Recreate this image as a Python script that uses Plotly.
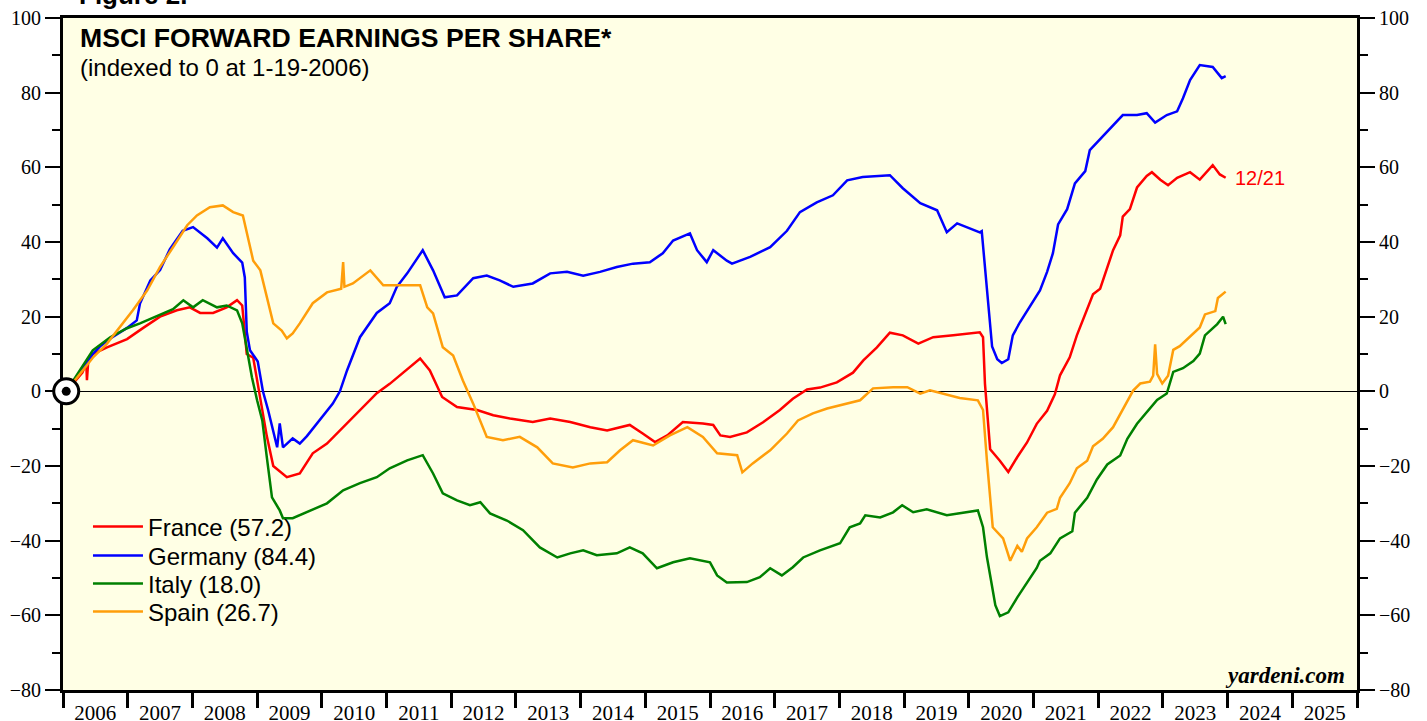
import plotly.graph_objects as go

# ---------------- data (decimal years, index values) ----------------
france_x = [2006.05, 2006.30, 2006.36, 2006.37, 2006.39, 2006.46, 2006.68, 2006.99, 2007.24, 2007.50, 2007.76, 2007.96,
            2008.12, 2008.32, 2008.53, 2008.69, 2008.77, 2008.84, 2008.94, 2009.05, 2009.15, 2009.25, 2009.46, 2009.66,
            2009.86, 2010.08, 2010.39, 2010.59, 2010.85, 2011.05, 2011.26, 2011.52, 2011.67, 2011.86, 2012.09, 2012.40,
            2012.65, 2012.91, 2013.26, 2013.53, 2013.84, 2014.15, 2014.41, 2014.76, 2014.96, 2015.15, 2015.34, 2015.58,
            2015.89, 2016.05, 2016.16, 2016.31, 2016.57, 2016.82, 2017.08, 2017.28, 2017.50, 2017.70, 2017.96, 2018.21,
            2018.37, 2018.58, 2018.78, 2018.98, 2019.22, 2019.45, 2019.76, 2020.17, 2020.22, 2020.25, 2020.33, 2020.48,
            2020.61, 2020.75, 2020.90, 2021.05, 2021.21, 2021.33, 2021.41, 2021.56, 2021.67, 2021.83, 2021.92, 2022.03,
            2022.14, 2022.23, 2022.34, 2022.38, 2022.49, 2022.60, 2022.75, 2022.83, 2022.96, 2023.08, 2023.22, 2023.42,
            2023.57, 2023.68, 2023.77, 2023.88, 2023.97]
france_y = [0, 5, 7.5, 3, 8, 10, 11.8, 14, 17, 20, 21.7, 22.5,
            21, 21, 22.5, 24.4, 23, 10, 9, -1.6, -12, -20, -23, -22,
            -16.6, -14, -8.6, -5, -0.5, 2, 5, 8.8, 5.6, -1.5, -4.2, -5,
            -6.4, -7.3, -8.2, -7.3, -8.2, -9.6, -10.5, -9, -11.3, -13.6, -11.8, -8.2,
            -8.6, -9, -11.8, -12.2, -11, -8.3, -5, -2, 0.5, 1, 2.4, 5,
            8.3, 11.8, 15.7, 15, 12.8, 14.5, 15, 15.8, 14.5, 2, -15.5, -18.6,
            -21.6, -17.6, -13.7, -8.7, -5.2, -0.8, 4.3, 9.1, 15, 22, 26, 27.5,
            33, 37.8, 41.8, 46.8, 48.8, 54.6, 57.7, 58.7, 56.7, 55.2, 57.2, 58.7,
            56.7, 58.7, 60.6, 58.1, 57.2]

germany_x = [2006.05, 2006.46, 2006.57, 2006.72, 2006.99, 2007.14, 2007.19, 2007.35, 2007.50, 2007.65, 2007.85, 2008.01,
             2008.23, 2008.38, 2008.47, 2008.63, 2008.77, 2008.81, 2008.84, 2008.89, 2009.01, 2009.09, 2009.17, 2009.31,
             2009.35, 2009.40, 2009.55, 2009.66, 2009.77, 2009.97, 2010.17, 2010.28, 2010.39, 2010.59, 2010.85, 2011.05,
             2011.16, 2011.32, 2011.56, 2011.72, 2011.90, 2012.09, 2012.34, 2012.55, 2012.75, 2012.96, 2013.26, 2013.53,
             2013.79, 2014.04, 2014.30, 2014.56, 2014.81, 2015.07, 2015.27, 2015.43, 2015.69, 2015.80, 2015.95, 2016.05,
             2016.26, 2016.34, 2016.62, 2016.93, 2017.19, 2017.39, 2017.65, 2017.90, 2018.12, 2018.36, 2018.78, 2018.98,
             2019.25, 2019.51, 2019.66, 2019.82, 2020.17, 2020.20, 2020.28, 2020.36, 2020.44, 2020.51, 2020.61, 2020.68,
             2020.79, 2020.95, 2021.10, 2021.21, 2021.30, 2021.38, 2021.52, 2021.64, 2021.80, 2021.87, 2022.03, 2022.18,
             2022.38, 2022.60, 2022.75, 2022.88, 2023.06, 2023.22, 2023.31, 2023.42, 2023.57, 2023.77, 2023.91, 2023.97]
germany_y = [0, 10, 12, 14, 17, 19, 23.5, 29.7, 32.5, 38, 43, 44,
             41, 38.5, 41, 37, 34.5, 30.5, 16, 11, 8, 0, -5, -15,
             -8.6, -15, -12.6, -14, -12, -7.8, -3.3, 0, 5.6, 14.5, 21, 23.6,
             28, 31.6, 37.8, 32.4, 25.2, 25.7, 30.3, 31, 29.7, 28, 28.9, 31.6,
             32, 31, 32, 33.3, 34.2, 34.6, 37, 40.4, 42.3, 37.8, 34.6, 37.8,
             35, 34.2, 36, 38.6, 43, 48, 50.6, 52.5, 56.5, 57.4, 57.9, 54.4,
             50.4, 48.5, 42.6, 45, 42.6, 42.9, 27, 12, 8.6, 7.6, 8.6, 15,
             18.5, 23, 27, 32, 37, 44.7, 48.8, 55.7, 59, 64.6, 67.5, 70.5,
             74, 74, 74.5, 72, 74, 75, 78.5, 83.4, 87.4, 86.9, 83.9, 84.4]

italy_x = [2006.05, 2006.46, 2006.73, 2006.99, 2007.19, 2007.50, 2007.70, 2007.86, 2008.01, 2008.16, 2008.38, 2008.53,
           2008.69, 2008.77, 2008.84, 2008.92, 2009.00, 2009.08, 2009.15, 2009.23, 2009.35, 2009.40, 2009.55, 2009.82,
           2010.08, 2010.33, 2010.59, 2010.85, 2011.05, 2011.32, 2011.56, 2011.72, 2011.87, 2012.09, 2012.29, 2012.45,
           2012.60, 2012.86, 2013.11, 2013.37, 2013.64, 2013.84, 2014.04, 2014.25, 2014.56, 2014.76, 2014.96, 2015.18,
           2015.43, 2015.69, 2016.00, 2016.11, 2016.26, 2016.57, 2016.77, 2016.93, 2017.11, 2017.28, 2017.44, 2017.70,
           2018.01, 2018.16, 2018.32, 2018.40, 2018.63, 2018.83, 2018.97, 2019.14, 2019.35, 2019.66, 2019.97, 2020.14,
           2020.22, 2020.28, 2020.36, 2020.41, 2020.48, 2020.61, 2020.75, 2020.90, 2021.05, 2021.10, 2021.26, 2021.41,
           2021.60, 2021.64, 2021.83, 2021.98, 2022.14, 2022.34, 2022.45, 2022.60, 2022.75, 2022.91, 2023.06, 2023.16,
           2023.31, 2023.47, 2023.57, 2023.65, 2023.84, 2023.93, 2023.97]
italy_y = [0, 11, 14.5, 16.9, 18.2, 20.4, 22, 24.4, 22.5, 24.4, 22.5, 23,
           21.7, 18.2, 11.8, 3.8, -2.4, -7.8, -17.6, -28.4, -31.9, -34, -34, -31.9,
           -30, -26.5, -24.6, -23, -20.6, -18.5, -17.1, -22, -27.3, -29.2, -30.5, -29.7,
           -32.7, -34.6, -37.2, -41.8, -44.5, -43.4, -42.6, -43.9, -43.4, -41.8, -43.4, -47.4,
           -45.8, -44.7, -45.8, -49.3, -51.2, -51.1, -49.8, -47.4, -49.3, -47.1, -44.5, -42.6,
           -40.7, -36.4, -35.4, -33.2, -33.8, -32.4, -30.5, -32.4, -31.6, -33.2, -32.4, -31.9,
           -36.4, -44.4, -52.3, -57.3, -60.2, -59.2, -55.2, -51.3, -47.3, -45.4, -43.4, -39.4,
           -37.5, -32.5, -28.5, -23.6, -19.6, -17.2, -12.7, -8.7, -5.7, -2.3, -0.6, 5.2,
           6.2, 8.1, 10.1, 15, 18, 20, 18]

spain_x = [2006.05, 2006.46, 2006.68, 2006.88, 2007.08, 2007.30, 2007.50, 2007.70, 2007.92, 2008.07, 2008.27, 2008.47,
           2008.63, 2008.78, 2008.84, 2008.94, 2009.05, 2009.15, 2009.25, 2009.38, 2009.46, 2009.55, 2009.66, 2009.86,
           2010.08, 2010.30, 2010.33, 2010.35, 2010.48, 2010.75, 2010.95, 2011.16, 2011.32, 2011.52, 2011.63, 2011.72,
           2011.87, 2012.03, 2012.18, 2012.34, 2012.55, 2012.80, 2013.06, 2013.33, 2013.57, 2013.88, 2014.15, 2014.41,
           2014.61, 2014.81, 2015.12, 2015.38, 2015.65, 2015.89, 2016.11, 2016.42, 2016.50, 2016.66, 2016.93, 2017.19,
           2017.36, 2017.59, 2017.81, 2018.12, 2018.32, 2018.52, 2018.83, 2019.05, 2019.25, 2019.40, 2019.66, 2019.86,
           2020.14, 2020.22, 2020.28, 2020.30, 2020.37, 2020.53, 2020.64, 2020.75, 2020.82, 2020.90, 2021.05, 2021.21,
           2021.36, 2021.41, 2021.56, 2021.67, 2021.83, 2021.92, 2022.07, 2022.23, 2022.38, 2022.54, 2022.65, 2022.80,
           2022.85, 2022.88, 2022.91, 2022.99, 2023.08, 2023.16, 2023.26, 2023.42, 2023.57, 2023.65, 2023.81, 2023.85,
           2023.97]
spain_y = [0, 9, 12.8, 17.2, 21.7, 27, 33.3, 38.6, 44.5, 47.1, 49.3, 49.8,
           48, 47.1, 42.3, 35, 32.4, 25.2, 18.2, 16.3, 14.2, 15.5, 18.2, 23.6,
           26.5, 27.5, 34.6, 28, 28.9, 32.4, 28.4, 28.4, 28.4, 28.4, 22.5, 20.9,
           11.8, 9.6, 2.9, -3.3, -12.2, -13.1, -12.2, -15, -19.3, -20.4, -19.3, -19,
           -15.8, -13.1, -14.5, -11.8, -9.6, -12.2, -16.6, -17.1, -21.7, -19.3, -15.8, -11.3,
           -7.8, -5.9, -4.6, -3.2, -2.4, 0.8, 1.1, 1.1, -0.6, 0.3, -1, -1.8,
           -2.4, -5, -18.5, -22.6, -36.4, -39.4, -45.4, -41.4, -43, -39.4, -36.4, -32.5,
           -31.5, -28.5, -24.6, -20.6, -18.6, -14.7, -12.7, -9.6, -4.7, 0.2, 2.1, 2.6,
           4.2, 12.6, 4.7, 2.1, 4.2, 11.1, 12.1, 14.6, 17.1, 20.6, 21.5, 25,
           26.7]

series_names = ["France (57.2)", "Germany (84.4)", "Italy (18.0)", "Spain (26.7)"]
series_colors = ["#FF0000", "#0000FF", "#008000", "#FF9E0A"]

year_labels = [str(y) for y in range(2006, 2026)]
year_label_pos = [y + 0.5 for y in range(2006, 2026)]

base_x = 2006.05   # 1-19-2006
base_y = 0
last_date_label = "12/21"

# ---------------- figure ----------------
serif = "Liberation Serif"
sans = "Liberation Sans"

fig = go.Figure()
legend_ids = ["legend", "legend2", "legend3", "legend4"]
for xs, ys, name, col, lg in zip([france_x, germany_x, italy_x, spain_x],
                                 [france_y, germany_y, italy_y, spain_y],
                                 series_names, series_colors, legend_ids):
    fig.add_trace(go.Scatter(x=xs, y=ys, mode="lines", name=name, legend=lg,
                             line=dict(color=col, width=2.5)))

# base marker (target symbol)
fig.add_trace(go.Scatter(x=[base_x], y=[base_y], mode="markers", showlegend=False, hoverinfo="skip",
                         cliponaxis=False,
                         marker=dict(size=25, color="white", line=dict(color="black", width=3))))
fig.add_trace(go.Scatter(x=[base_x], y=[base_y], mode="markers", showlegend=False, hoverinfo="skip",
                         cliponaxis=False, marker=dict(size=9, color="black")))
# right axis carrier
fig.add_trace(go.Scatter(x=[base_x], y=[base_y], yaxis="y2", mode="markers", showlegend=False,
                         hoverinfo="skip", marker=dict(opacity=0)))

yaxis_common = dict(range=[-80, 100], tick0=0, dtick=20, ticks="outside", ticklen=15, tickwidth=2,
                    tickcolor="black", showline=True, linecolor="black", linewidth=3, showgrid=False,
                    automargin=False,
                    tickfont=dict(family=serif, size=20, color="black"),
                    minor=dict(dtick=10, tick0=0, ticks="outside", ticklen=8, tickwidth=2, tickcolor="black"),
                    layer="below traces")

# legends: one per series so row spacing matches the original
plot_top, plot_h = 18, 672
legend_rows_px = [527, 556, 584, 612]
legend_layouts = {}
for lg, ypx in zip(legend_ids, legend_rows_px):
    legend_layouts[lg] = dict(x=0.0193, y=1 - (ypx - plot_top) / plot_h, xanchor="left", yanchor="middle",
                              bgcolor="rgba(0,0,0,0)", itemwidth=50,
                              font=dict(family=sans, size=24, color="black"))

fig.update_layout(
    width=1427, height=721,
    margin=dict(l=63, r=70, t=18, b=31, autoexpand=False),
    paper_bgcolor="white", plot_bgcolor="#FFFFE5",
    font=dict(family=serif, size=20, color="black"),
    showlegend=True,
    **legend_layouts,
    xaxis=dict(range=[2006, 2026], tickmode="array", tickvals=year_label_pos, ticktext=year_labels,
               ticks="outside", ticklen=2, tickcolor="rgba(0,0,0,0)", showline=True, mirror=True,
               linecolor="black", linewidth=3, showgrid=False, zeroline=False, automargin=False,
               tickfont=dict(family=serif, size=21, color="black"),
               minor=dict(tick0=2006, dtick=1, ticks="outside", ticklen=15, tickwidth=3, tickcolor="black"),
               layer="below traces"),
    yaxis=dict(**yaxis_common, side="left", zeroline=True, zerolinecolor="black", zerolinewidth=1),
    yaxis2=dict(**yaxis_common, side="right", overlaying="y", zeroline=False),
    annotations=[
        dict(text="<b>MSCI FORWARD EARNINGS PER SHARE*</b>", xref="paper", yref="paper",
             x=0.0116, y=1 - (38 - plot_top) / plot_h, xanchor="left", yanchor="middle", showarrow=False,
             font=dict(family=sans, size=26.6, color="black")),
        dict(text="(indexed to 0 at 1-19-2006)", xref="paper", yref="paper",
             x=0.0116, y=1 - (68 - plot_top) / plot_h, xanchor="left", yanchor="middle", showarrow=False,
             font=dict(family=sans, size=24, color="black")),
        dict(text="<b>Figure 2.</b>", xref="paper", yref="paper",
             x=0.0108, y=1 + (plot_top - 12) / plot_h, xanchor="left", yanchor="bottom", showarrow=False,
             font=dict(family=sans, size=26, color="black")),
        dict(text=last_date_label, x=france_x[-1], y=france_y[-1], xref="x", yref="y",
             xanchor="left", yanchor="middle", xshift=7, showarrow=False,
             font=dict(family=sans, size=20, color="#FF0000")),
        dict(text="<b><i>yardeni.com</i></b>", xref="paper", yref="paper",
             x=0.9923, y=(690 - 675) / plot_h, xanchor="right", yanchor="middle", showarrow=False,
             font=dict(family=serif, size=23, color="black")),
    ],
)

fig.write_html("out.html", config={"displayModeBar": False},
               post_script="document.body.style.margin='0';document.body.style.padding='0';")
